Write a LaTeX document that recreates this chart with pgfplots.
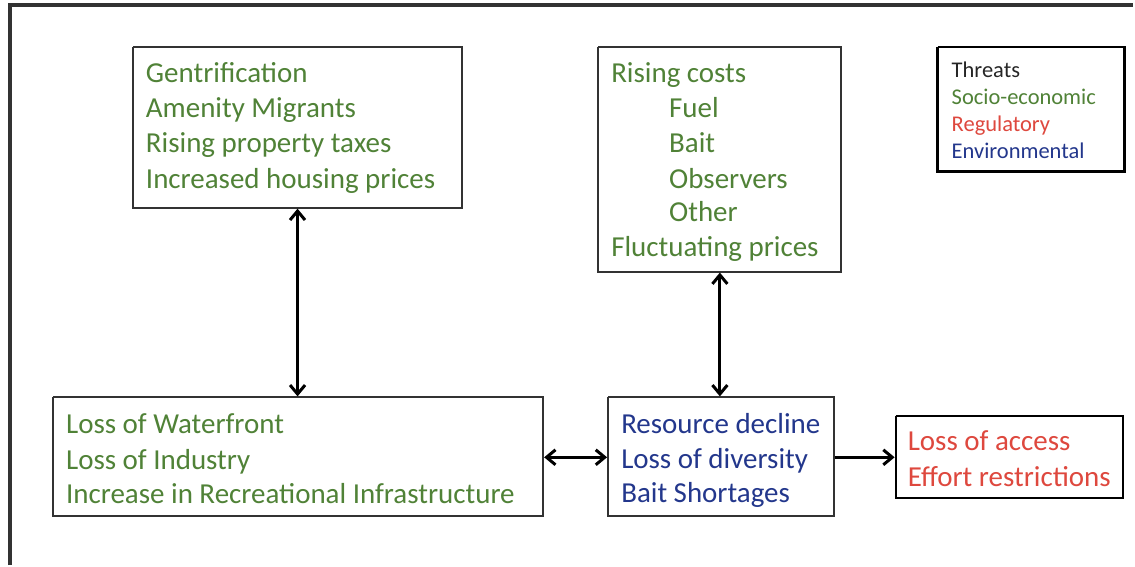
\documentclass[border=0pt]{standalone}
\usepackage{pgfplots}
\pgfplotsset{compat=1.18}
\usepackage{fontspec}
\setmainfont{Carlito}
\usetikzlibrary{arrows.meta}

\definecolor{tgreen}{RGB}{80,130,55}
\definecolor{tred}{RGB}{222,72,62}
\definecolor{tblue}{RGB}{35,55,140}
\definecolor{frame}{RGB}{50,50,50}

\begin{document}
\begin{tikzpicture}
\begin{axis}[
    width=1135pt, height=566pt,
    scale only axis,
    xmin=0, xmax=1135,
    ymin=0, ymax=566,
    y dir=reverse,
    hide axis,
    clip=false,
]
% background
\addplot[draw=none, fill=white] coordinates {(0,0) (1135,0) (1135,566) (0,566) (0,0)};

% outer frame (cut off on right and bottom)
\addplot[frame, line width=3.5pt, line join=miter] coordinates {(10,566) (10,5) (1135,5)};

% boxes
\addplot[frame, line width=2pt] coordinates {(133,47) (463,47) (463,208) (133,208) (133,47)};
\addplot[frame, line width=2pt] coordinates {(599,47) (842,47) (842,272) (599,272) (599,47)};
\addplot[black, line width=2.5pt] coordinates {(939,47) (1126,47) (1126,172) (939,172) (939,47)};
\addplot[frame, line width=2pt] coordinates {(53,398) (544,398) (544,517) (53,517) (53,398)};
\addplot[frame, line width=2pt] coordinates {(609,398) (835,398) (835,517) (609,517) (609,398)};
\addplot[black, line width=2pt] coordinates {(897,417) (1125,417) (1125,499) (897,499) (897,417)};

% arrows
\addplot[black, line width=3pt, {Straight Barb[length=9pt,width=15pt]}-{Straight Barb[length=9pt,width=15pt]}] coordinates {(298,209) (298,397)};
\addplot[black, line width=3pt, {Straight Barb[length=9pt,width=15pt]}-{Straight Barb[length=9pt,width=15pt]}] coordinates {(721,273) (721,397)};
\addplot[black, line width=3pt, {Straight Barb[length=9pt,width=15pt]}-{Straight Barb[length=9pt,width=15pt]}] coordinates {(545,458) (608,458)};
\addplot[black, line width=3pt, -{Straight Barb[length=9pt,width=15pt]}] coordinates {(836,458) (896,458)};

% texts
\begin{scope}[every node/.style={anchor=mid west, inner sep=0pt, font=\fontsize{29}{35}\selectfont}]
\node[text=tgreen] at (axis cs:146,80) {Gentrification};
\node[text=tgreen] at (axis cs:146,115) {Amenity Migrants};
\node[text=tgreen] at (axis cs:146,150) {Rising property taxes};
\node[text=tgreen] at (axis cs:146,186) {Increased housing prices};

\node[text=tgreen] at (axis cs:612,80) {Rising costs};
\node[text=tgreen] at (axis cs:670,115) {Fuel};
\node[text=tgreen] at (axis cs:670,150) {Bait};
\node[text=tgreen] at (axis cs:670,186) {Observers};
\node[text=tgreen] at (axis cs:670,219) {Other};
\node[text=tgreen] at (axis cs:612,255) {Fluctuating prices};

\node[text=tgreen] at (axis cs:66,432) {Loss of Waterfront};
\node[text=tgreen] at (axis cs:66,468) {Loss of Industry};
\node[text=tgreen] at (axis cs:66,502) {Increase in Recreational Infrastructure};

\node[text=tblue] at (axis cs:622,432) {Resource decline};
\node[text=tblue] at (axis cs:622,467) {Loss of diversity};
\node[text=tblue] at (axis cs:622,501) {Bait Shortages};

\node[text=tred] at (axis cs:909,449) {Loss of access};
\node[text=tred] at (axis cs:909,485) {Effort restrictions};
\end{scope}

\begin{scope}[every node/.style={anchor=mid west, inner sep=0pt, font=\fontsize{22.5}{27}\selectfont}]
\node[text=black!85] at (axis cs:953,75) {Threats};
\node[text=tgreen] at (axis cs:953,102) {Socio-economic};
\node[text=tred] at (axis cs:953,129) {Regulatory};
\node[text=tblue] at (axis cs:953,156) {Environmental};
\end{scope}
\end{axis}
\end{tikzpicture}
\end{document}
